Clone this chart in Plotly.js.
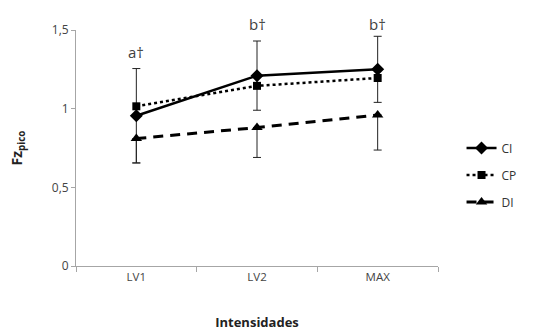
<!DOCTYPE html>
<html>
<head>
<meta charset="utf-8">
<script src="https://cdn.plot.ly/plotly-3.0.1.min.js"></script>
<style>
  html, body { margin: 0; padding: 0; background: #fff; }
  #chart { width: 534px; height: 331px; }
</style>
</head>
<body>
<div id="chart"></div>
<script>
// Intensity levels on the x axis
const intensidades = ['LV1', 'LV2', 'MAX'];

// Peak vertical force per condition
const serieCI = [0.955, 1.21, 1.25];
const serieCP = [1.015, 1.145, 1.195];
const serieDI = [0.81, 0.88, 0.96];

// Error bars (CI symmetric, DI lower side only)
const erroCI = [0.3, 0.22, 0.21];
const erroDIminus = [0.155, 0.19, 0.223];
const erroDIplus = [0, 0, 0];

// Significance letters above each intensity
const letras = ['a†', 'b†', 'b†'];
const letrasY = [1.36, 1.535, 1.535];

const nomes = ['CI', 'CP', 'DI'];

const yMax = 1.5;
const errStyle = {thickness: 1, width: 4, color: '#222'};

const traces = [
  {
    x: intensidades, y: serieCI, name: nomes[0], legendgroup: 'g1', type: 'scatter', mode: 'lines+markers',
    line: {color: '#000', width: 2.5},
    marker: {symbol: 'diamond', size: 10, color: '#000'},
    error_y: Object.assign({type: 'data', array: erroCI, symmetric: true, visible: true}, errStyle)
  },
  {
    x: intensidades, y: serieCP, name: nomes[1], legendgroup: 'g2', type: 'scatter', mode: 'lines+markers',
    line: {color: '#000', width: 2.5, dash: 'dot'},
    marker: {symbol: 'square', size: 8, color: '#000'}
  },
  {
    x: intensidades, y: serieDI, name: nomes[2], legendgroup: 'g3', type: 'scatter', mode: 'lines+markers',
    line: {color: '#000', width: 3, dash: '10px,7px'},
    marker: {symbol: 'triangle-up', size: 10, color: '#000'},
    error_y: Object.assign({type: 'data', array: erroDIplus, arrayminus: erroDIminus,
                            symmetric: false, visible: true}, errStyle)
  }
];

// Letters use paper coordinates so they can sit above the top of the range
const annotations = intensidades.map((c, i) => ({
  x: c, y: letrasY[i] / yMax, xref: 'x', yref: 'paper', yanchor: 'middle',
  text: letras[i], showarrow: false,
  font: {family: 'Open Sans, sans-serif', size: 15, color: '#404040'}
}));

const layout = {
  width: 534, height: 331,
  margin: {l: 76, r: 81, t: 30, b: 65},
  paper_bgcolor: '#fff', plot_bgcolor: '#fff',
  separators: ',.',
  showlegend: true,
  legend: {
    x: 1.065, xanchor: 'left', y: 0.386, yanchor: 'middle',
    font: {family: 'Open Sans, sans-serif', size: 12, color: '#333'},
    tracegroupgap: 8
  },
  xaxis: {
    type: 'category', range: [-0.5, 2.5],
    showline: true, linecolor: '#a6a6a6', linewidth: 1,
    showgrid: false, zeroline: false,
    ticks: 'outside', tickson: 'boundaries', ticklen: 5, tickcolor: '#a6a6a6',
    tickfont: {family: 'Open Sans, sans-serif', size: 11.5, color: '#444'},
    title: {text: '<b>Intensidades</b>', standoff: 38,
            font: {family: 'Open Sans, sans-serif', size: 13, color: '#222'}}
  },
  yaxis: {
    range: [0, yMax], tickvals: [0, 0.5, 1, 1.5],
    showline: true, linecolor: '#a6a6a6', linewidth: 1,
    showgrid: false, zeroline: false,
    ticks: 'outside', ticklen: 4, tickcolor: '#a6a6a6',
    tickfont: {family: 'Open Sans, sans-serif', size: 12, color: '#444'},
    title: {text: '<b>Fz<sub>pico</sub></b>', standoff: 25,
            font: {family: 'Open Sans, sans-serif', size: 14, color: '#222'}}
  },
  annotations: annotations
};

Plotly.newPlot('chart', traces, layout, {displayModeBar: false, staticPlot: true});
</script>
</body>
</html>
